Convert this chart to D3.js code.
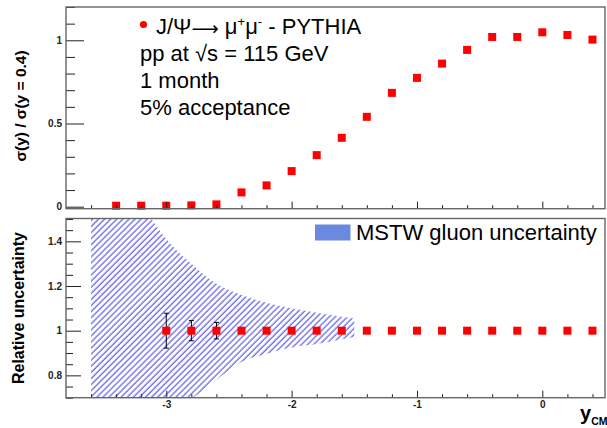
<!DOCTYPE html>
<html>
<head>
<meta charset="utf-8">
<script src="https://cdn.jsdelivr.net/npm/d3@7"></script>
<style>
  body { margin: 0; background: #fff; }
  svg { display: block; font-family: "Liberation Sans", Arial, sans-serif; }
</style>
</head>
<body>
<div id="chart"></div>
<script>
// top panel: sigma(y)/sigma(y=0.4)
var yTop = [-3.4, -3.2, -3.0, -2.8, -2.6, -2.4, -2.2, -2.0, -1.8, -1.6, -1.4, -1.2, -1.0, -0.8, -0.6, -0.4, -0.2, 0.0, 0.2, 0.4];
var ratioTop = [0.006, 0.006, 0.006, 0.008, 0.014, 0.086, 0.128, 0.214, 0.31, 0.414, 0.54, 0.684, 0.774, 0.86, 0.942, 1.02, 1.02, 1.048, 1.032, 1.004];

// bottom panel: relative uncertainty
var yBot = [-3.0, -2.8, -2.6, -2.4, -2.2, -2.0, -1.8, -1.6, -1.4, -1.2, -1.0, -0.8, -0.6, -0.4, -0.2, 0.0, 0.2, 0.4];
var relBot = [1, 1, 1, 1, 1, 1, 1, 1, 1, 1, 1, 1, 1, 1, 1, 1, 1, 1];
var errBot = [0.078, 0.045, 0.037, 0, 0, 0, 0, 0, 0, 0, 0, 0, 0, 0, 0, 0, 0, 0];

// MSTW gluon band
var bandX  = [-3.6, -3.4, -3.2, -3.0, -2.8, -2.6, -2.4, -2.2, -2.0, -1.8, -1.6, -1.5];
var bandHi = [1.95, 1.75, 1.57, 1.41, 1.30, 1.21, 1.16, 1.125, 1.10, 1.08, 1.062, 1.055];
var bandLo = [0.30, 0.45, 0.56, 0.64, 0.695, 0.78, 0.86, 0.897, 0.925, 0.94, 0.962, 0.972];

var topMajor = [0, 0.5, 1];
var topMinor = [0.1, 0.2, 0.3, 0.4, 0.6, 0.7, 0.8, 0.9, 1.1, 1.2];
var botMajor = [0.8, 1.0, 1.2, 1.4];
var botMinor = [0.7, 0.75, 0.85, 0.9, 0.95, 1.05, 1.1, 1.15, 1.25, 1.3, 1.35, 1.45, 1.5];
var xMajor = [-3, -2, -1, 0];
var xMinor = [-3.6, -3.4, -3.2, -2.8, -2.6, -2.4, -2.2, -1.8, -1.6, -1.4, -1.2, -0.8, -0.6, -0.4, -0.2, 0.2, 0.4];

var width = 607, height = 428;

var svg = d3.select("#chart").append("svg")
    .attr("width", width)
    .attr("height", height);

var defs = svg.append("defs");
var pat = defs.append("pattern")
    .attr("id", "hatch")
    .attr("patternUnits", "userSpaceOnUse")
    .attr("width", 4.3)
    .attr("height", 4.3)
    .attr("patternTransform", "rotate(45)");
pat.append("line")
    .attr("x1", 1).attr("y1", 0)
    .attr("x2", 1).attr("y2", 4.3)
    .attr("stroke", "#3a3ae6")
    .attr("stroke-width", 1);

var x = d3.scaleLinear().domain([-3.8, 0.5]).range([66, 605]);
var yT = d3.scaleLinear().domain([-0.012, 1.2]).range([208.7, 7]);
var yB = d3.scaleLinear().domain([0.7, 1.5]).range([397.7, 219]);

defs.append("clipPath").attr("id", "clipB")
  .append("rect")
    .attr("x", 66).attr("y", 219)
    .attr("width", 539).attr("height", 178.7);

function fmt(d) { return String(d); }

function styleAxis(g) {
  g.select(".domain").remove();
  g.selectAll(".tick line").attr("stroke", "#222");
  g.selectAll("text")
    .attr("font-size", 10)
    .attr("font-weight", "bold")
    .attr("fill", "#222");
}

// ---------- top panel ----------
var topG = svg.append("g");

topG.selectAll(".ptT")
  .data(yTop)
  .enter()
  .append("rect")
  .attr("class", "ptT")
  .attr("x", function(d) { return x(d) - 4; })
  .attr("y", function(d, i) { return yT(ratioTop[i]) - 4; })
  .attr("width", 8)
  .attr("height", 8)
  .attr("fill", "#ff0000");

topG.append("g")
  .attr("transform", "translate(66,0)")
  .call(d3.axisLeft(yT).tickValues(topMajor).tickSize(-18).tickPadding(4).tickFormat(fmt))
  .call(styleAxis);
topG.append("g")
  .attr("transform", "translate(66,0)")
  .call(d3.axisLeft(yT).tickValues(topMinor).tickSize(-9).tickFormat(""))
  .call(styleAxis);
topG.append("g")
  .attr("transform", "translate(0,208.7)")
  .call(d3.axisBottom(x).tickValues(xMajor).tickSize(-7).tickFormat(""))
  .call(styleAxis);
topG.append("g")
  .attr("transform", "translate(0,208.7)")
  .call(d3.axisBottom(x).tickValues(xMinor).tickSize(-3.5).tickFormat(""))
  .call(styleAxis);

topG.append("rect")
  .attr("x", 66).attr("y", 7)
  .attr("width", 539).attr("height", 201.7)
  .attr("fill", "none")
  .attr("stroke", "#666")
  .attr("stroke-width", 1.4);

topG.append("text")
  .attr("transform", "translate(26,106) rotate(-90)")
  .attr("text-anchor", "middle")
  .attr("font-size", 15.5)
  .attr("font-weight", "bold")
  .text("σ(y) / σ(y = 0.4)");

// legend text, top panel
topG.append("circle")
  .attr("cx", 143.5).attr("cy", 24.5).attr("r", 3.6)
  .attr("fill", "#ff0000");

var l1 = topG.append("text")
  .attr("x", 156).attr("y", 33.5)
  .attr("font-size", 22);
l1.append("tspan").text("J/Ψ");
l1.append("tspan").attr("font-family", "DejaVu Sans").attr("font-size", 19).attr("dy", 1).text("⟶");
l1.append("tspan").attr("dy", -1).text(" μ");
l1.append("tspan").attr("font-size", 13).attr("dy", -8).text("+");
l1.append("tspan").attr("dy", 8).text("μ");
l1.append("tspan").attr("font-size", 13).attr("dy", -8).text("-");
l1.append("tspan").attr("dy", 8).text(" - PYTHIA");

var lines = ["pp at √s = 115 GeV", "1 month", "5% acceptance"];
topG.selectAll(".info")
  .data(lines)
  .enter()
  .append("text")
  .attr("class", "info")
  .attr("x", 140)
  .attr("y", function(d, i) { return 60.5 + i * 27; })
  .attr("font-size", 22)
  .text(function(d) { return d; });

// ---------- bottom panel ----------
var botG = svg.append("g");

var area = d3.area()
  .x(function(d, i) { return x(bandX[i]); })
  .y0(function(d, i) { return yB(bandLo[i]); })
  .y1(function(d, i) { return yB(bandHi[i]); })
  .curve(d3.curveMonotoneX);

botG.append("path")
  .datum(bandX)
  .attr("d", area)
  .attr("fill", "url(#hatch)")
  .attr("clip-path", "url(#clipB)");

var eb = botG.selectAll(".err")
  .data(yBot.filter(function(d, i) { return errBot[i] > 0; }))
  .enter()
  .append("g")
  .attr("class", "err");
eb.append("line")
  .attr("x1", function(d) { return x(d); })
  .attr("x2", function(d) { return x(d); })
  .attr("y1", function(d) { var i = yBot.indexOf(d); return yB(relBot[i] + errBot[i]); })
  .attr("y2", function(d) { var i = yBot.indexOf(d); return yB(relBot[i] - errBot[i]); })
  .attr("stroke", "#000");
eb.selectAll(".cap")
  .data(function(d) { var i = yBot.indexOf(d); return [[d, relBot[i] + errBot[i]], [d, relBot[i] - errBot[i]]]; })
  .enter()
  .append("line")
  .attr("x1", function(d) { return x(d[0]) - 2.5; })
  .attr("x2", function(d) { return x(d[0]) + 2.5; })
  .attr("y1", function(d) { return yB(d[1]); })
  .attr("y2", function(d) { return yB(d[1]); })
  .attr("stroke", "#000");

botG.selectAll(".ptB")
  .data(yBot)
  .enter()
  .append("rect")
  .attr("class", "ptB")
  .attr("x", function(d) { return x(d) - 4; })
  .attr("y", function(d, i) { return yB(relBot[i]) - 4; })
  .attr("width", 8)
  .attr("height", 8)
  .attr("fill", "#ff0000");

botG.append("g")
  .attr("transform", "translate(66,0)")
  .call(d3.axisLeft(yB).tickValues(botMajor).tickSize(-15).tickPadding(4).tickFormat(fmt))
  .call(styleAxis);
botG.append("g")
  .attr("transform", "translate(66,0)")
  .call(d3.axisLeft(yB).tickValues(botMinor).tickSize(-7).tickFormat(""))
  .call(styleAxis);
botG.append("g")
  .attr("transform", "translate(0,397.7)")
  .call(d3.axisBottom(x).tickValues(xMajor).tickSize(-7).tickPadding(3).tickFormat(fmt))
  .call(styleAxis);
botG.append("g")
  .attr("transform", "translate(0,397.7)")
  .call(d3.axisBottom(x).tickValues(xMinor).tickSize(-3.5).tickFormat(""))
  .call(styleAxis);

botG.append("rect")
  .attr("x", 66).attr("y", 218.5)
  .attr("width", 539).attr("height", 179.2)
  .attr("fill", "none")
  .attr("stroke", "#666")
  .attr("stroke-width", 1.4);

botG.append("text")
  .attr("transform", "translate(24,308) rotate(-90)")
  .attr("text-anchor", "middle")
  .attr("font-size", 16)
  .attr("font-weight", "bold")
  .text("Relative uncertainty");

// legend, bottom panel
botG.append("rect")
  .attr("x", 315).attr("y", 224.5)
  .attr("width", 35.5).attr("height", 16)
  .attr("fill", "#6a8ae0");
botG.append("text")
  .attr("x", 356).attr("y", 239.5)
  .attr("font-size", 22)
  .text("MSTW gluon uncertainty");

// x title
var xt = svg.append("text")
  .attr("x", 580).attr("y", 420)
  .attr("font-weight", "bold")
  .attr("font-size", 20);
xt.append("tspan").text("y");
xt.append("tspan").attr("font-size", 10.5).attr("dy", 5).text("CM");
</script>
</body>
</html>
